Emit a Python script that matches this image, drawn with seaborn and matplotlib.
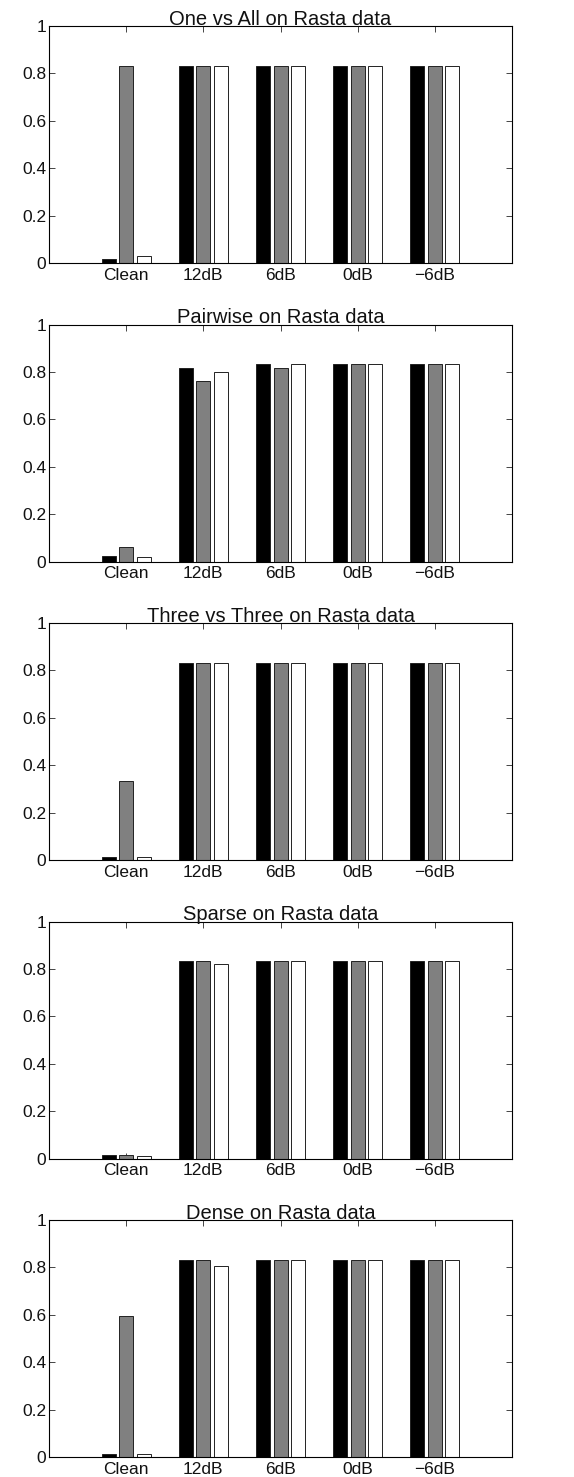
import pandas as pd
import seaborn as sns
import matplotlib.pyplot as plt

categories = ["Clean", "12dB", "6dB", "0dB", "\u22126dB"]
series_names = ["a", "b", "c"]

titles = [
    "One vs All on Rasta data",
    "Pairwise on Rasta data",
    "Three vs Three on Rasta data",
    "Sparse on Rasta data",
    "Dense on Rasta data",
]

# values per panel: one list per series (black, gray, white), one value per category
one_vs_all = [
    [0.015, 0.830, 0.833, 0.833, 0.833],
    [0.833, 0.833, 0.833, 0.833, 0.833],
    [0.028, 0.833, 0.833, 0.833, 0.833],
]
pairwise = [
    [0.025, 0.815, 0.833, 0.833, 0.833],
    [0.060, 0.760, 0.815, 0.833, 0.833],
    [0.018, 0.800, 0.833, 0.833, 0.833],
]
three_vs_three = [
    [0.013, 0.833, 0.833, 0.833, 0.833],
    [0.333, 0.833, 0.833, 0.833, 0.833],
    [0.012, 0.833, 0.833, 0.833, 0.833],
]
sparse = [
    [0.015, 0.833, 0.833, 0.833, 0.833],
    [0.017, 0.833, 0.833, 0.833, 0.833],
    [0.012, 0.822, 0.833, 0.833, 0.833],
]
dense = [
    [0.015, 0.833, 0.833, 0.833, 0.833],
    [0.595, 0.833, 0.833, 0.833, 0.833],
    [0.015, 0.805, 0.833, 0.833, 0.833],
]
panels = [one_vs_all, pairwise, three_vs_three, sparse, dense]

colors = ["#000000", "#808080", "#ffffff"]

sns.set_style("white")
plt.rcParams['font.family'] = ['Liberation Sans', 'DejaVu Sans']

fig, axes = plt.subplots(5, 1, figsize=(5.74, 14.77), dpi=100)
fig.subplots_adjust(left=0.0854, right=0.892, top=0.9824, bottom=0.0135, hspace=0.2595)

for ax, title, vals in zip(axes, titles, panels):
    rows = []
    for s, name in enumerate(series_names):
        for c, cat in enumerate(categories):
            rows.append({"cat": cat, "series": name, "value": vals[s][c]})
    df = pd.DataFrame(rows)

    sns.barplot(data=df, x="cat", y="value", hue="series", order=categories,
                hue_order=series_names, palette=colors, width=0.68, gap=0.2,
                edgecolor="#222222", linewidth=0.7, legend=False, ax=ax)

    ax.set_xlim(-1, 5)
    ax.set_ylim(0, 1)
    ax.set_yticks([0, 0.2, 0.4, 0.6, 0.8, 1])
    ax.set_yticklabels(["0", "0.2", "0.4", "0.6", "0.8", "1"])
    ax.set_xlabel("")
    ax.set_ylabel("")
    ax.set_title(title, fontsize=14.5, pad=1, color="#111111")
    ax.tick_params(direction="in", length=4, width=0.6, labelsize=12.5,
                   top=True, right=True, bottom=True, left=True, pad=2,
                   labelcolor="#111111")
    ax.tick_params(axis="x", pad=3.5)
    for sp in ax.spines.values():
        sp.set_visible(True)
        sp.set_color("black")
        sp.set_linewidth(0.8)

plt.savefig("out.png", dpi=100)
plt.close()
